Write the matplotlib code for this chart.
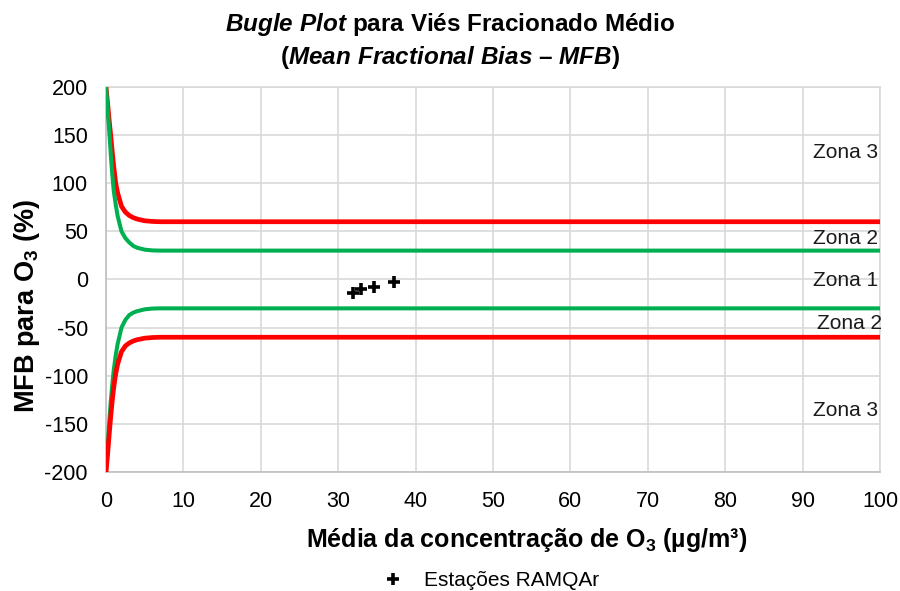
import numpy as np
import matplotlib
matplotlib.use('Agg')
import matplotlib.pyplot as plt

plt.rcParams['font.family'] = ['Liberation Sans', 'DejaVu Sans']
plt.rcParams['mathtext.fontset'] = 'custom'
plt.rcParams['mathtext.it'] = 'Liberation Sans:italic:bold'
plt.rcParams['mathtext.default'] = 'regular'
plt.rcParams['axes.unicode_minus'] = False

# criteria / goal curves (concentration, MFB %)
curve_x = [0, 0.2, 0.4, 0.6, 0.8, 1.0, 1.25, 1.5, 2.0, 2.5, 3.0, 3.5, 4.0, 5.0, 6.0, 7.0, 100]
crit_upper = [200, 183, 166, 150, 133, 117, 100, 90, 76, 70, 66.5, 64.3, 62.8, 61, 60.3, 60, 60]
goal_upper = [200, 178, 156, 132, 110, 92, 78, 66, 50, 43, 38.5, 35, 33, 31, 30.2, 30, 30]
goal_lower = [-200, -175, -150, -128, -110, -94, -79, -67, -50, -42, -37, -34.5, -33, -31, -30.2, -30, -30]
crit_lower = [-200, -182, -162, -143, -126, -112, -98, -88, -75, -69, -66, -64, -62.6, -61, -60.3, -60, -60]

# RAMQAr stations
st_conc = [31.9, 33.0, 34.6, 37.2]
st_mfb = [-14.3, -10.2, -8.1, -2.6]

zone_labels = ['Zona 3', 'Zona 2', 'Zona 1', 'Zona 2', 'Zona 3']
zone_y = [132, 43, -1.5, -46, -136]

fig = plt.figure(figsize=(9, 5.91), dpi=100)
ax = fig.add_axes([0.1178, 0.2014, 0.86, 0.6514])

red = '#FF0000'
green = '#00B050'
ax.plot(curve_x, crit_upper, color=red, lw=3.4, zorder=3)
ax.plot(curve_x, goal_upper, color=green, lw=2.9, zorder=3)
ax.plot(curve_x, goal_lower, color=green, lw=2.9, zorder=3)
ax.plot(curve_x, crit_lower, color=red, lw=3.4, zorder=3)

ax.plot(st_conc, st_mfb, ls='none', marker='+', ms=9, mew=2.6, color='black',
        zorder=4, label='Estações RAMQAr')

for lab, y in zip(zone_labels, zone_y):
    xx = 100.2 if y == -46 else 99.8
    ax.text(xx, y, lab, ha='right', va='center', fontsize=15, color='#1a1a1a')

ax.set_xlim(0, 100)
ax.set_ylim(-200, 200)
ax.set_xticks(np.arange(0, 101, 10))
ax.set_yticks(np.arange(-200, 201, 50))
ax.grid(True, color='#D9D9D9', lw=1.2)
ax.set_axisbelow(True)
for s in ax.spines.values():
    s.set_color('#D9D9D9')
    s.set_linewidth(1.2)
ax.spines['left'].set_color('#BFBFBF')
ax.spines['bottom'].set_color('#BFBFBF')
ax.tick_params(labelsize=15.5)
ax.tick_params(axis='y', length=0, pad=13)
ax.tick_params(axis='x', length=0, pad=14)

ax.set_xlabel('Média da concentração de O$_3$ (µg/m³)', fontsize=18,
              fontweight='bold')
ax.xaxis.set_label_coords(0.544, -0.14)
ax.set_ylabel('MFB para O$_3$ (%)', fontsize=19.5, fontweight='bold')
ax.yaxis.set_label_coords(-0.083, 0.43)

fig.text(0.5, 0.958, r'$\it{Bugle\ Plot}$ para Viés Fracionado Médio',
         ha='center', va='center', fontsize=17.5, fontweight='bold')
fig.text(0.5, 0.903, r'($\it{Mean\ Fractional\ Bias}$ – $\it{MFB}$)',
         ha='center', va='center', fontsize=17.5, fontweight='bold')

fig.legend(loc='center', bbox_to_anchor=(0.54, 0.018), frameon=False,
           fontsize=15, handletextpad=0.5, markerscale=0.9)

fig.savefig('out.png', dpi=100)
